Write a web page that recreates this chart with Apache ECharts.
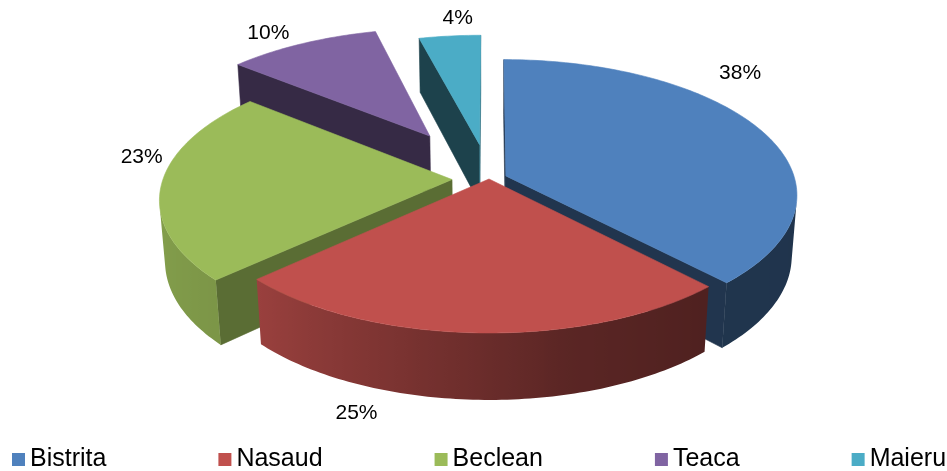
<!DOCTYPE html>
<html><head><meta charset="utf-8">
<script src="https://cdn.jsdelivr.net/npm/echarts@6/dist/echarts.min.js"></script>
<style>html,body{margin:0;padding:0;background:#fff}#c{width:947px;height:471px}</style>
</head><body><div id="c"></div>
<script>
// ---- data ----
const categories = ['Bistrita', 'Nasaud', 'Beclean', 'Teaca', 'Maieru'];
const values = [38, 25, 23, 10, 4];
const percentLabels = ['38%', '25%', '23%', '10%', '4%'];

// ---- style / layout ----
const colors = ['#4F81BD', '#C0504D', '#9BBB59', '#8064A2', '#4BACC6'];
const explode = [0.063, 0, 0.128, 0.4, 0.27];
const labelShift = [[-20, -56], [-122, 80], [-20, -27], [-34, -10], [8, -18]];
const CX = 489, CY = 179, PHI = 27.4 * Math.PI / 180, DIST = 6.51, FOC = 1881, H = 0.24;
const FONT = "'Liberation Sans', Arial, sans-serif";

const cP = Math.cos(PHI), sP = Math.sin(PHI);
const cam = [0, DIST * sP, -DIST * cP];
function proj(X, Y, Z) {
  const yv = Y * cP + Z * sP;
  const d = DIST + Z * cP - Y * sP;
  const k = FOC / d;
  return [CX + X * k, CY - yv * k, d];
}
function shade(hex, f) {
  const n = parseInt(hex.slice(1), 16);
  const r = Math.round(((n >> 16) & 255) * f), g = Math.round(((n >> 8) & 255) * f), b = Math.round((n & 255) * f);
  return 'rgb(' + Math.min(255, r) + ',' + Math.min(255, g) + ',' + Math.min(255, b) + ')';
}
// lighting for outer walls, by angle (deg)
const wallLight = [[0, 0.4], [90, 0.4], [137, 0.41], [166, 0.47], [180, 0.55], [196, 0.64], [226, 0.8], [270, 0.87], [360, 0.6]];
function wallF(deg) {
  deg = ((deg % 360) + 360) % 360;
  for (let i = 1; i < wallLight.length; i++) {
    if (deg <= wallLight[i][0]) {
      const [a0, f0] = wallLight[i - 1], [a1, f1] = wallLight[i];
      return f0 + (f1 - f0) * (deg - a0) / (a1 - a0);
    }
  }
  return 0.6;
}
function cutF(nAng) { return 0.5 + 0.12 * Math.sin(nAng); }

const total = values.reduce((s, v) => s + v, 0);
const starts = [], ends = [];
let acc = 0;
values.forEach(v => { starts.push(acc / total * 2 * Math.PI); acc += v; ends.push(acc / total * 2 * Math.PI); });

// depth ranking of slices (far first)
const depth = values.map((v, i) => {
  const m = (starts[i] + ends[i]) / 2, e = explode[i];
  const X = (e + 0.6) * Math.sin(m), Z = (e + 0.6) * Math.cos(m);
  return proj(X, -H / 2, Z)[2];
});
const order = depth.map((d, i) => i).sort((p, q) => depth[q] - depth[p]);
const rank = [];
order.forEach((idx, r) => { rank[idx] = r; });

function visible(n, p) {
  return n[0] * (cam[0] - p[0]) + n[1] * (cam[1] - p[1]) + n[2] * (cam[2] - p[2]) > 0;
}

function makeRender(i) {
  return function (params, api) {
    const a = starts[i], b = ends[i], m = (a + b) / 2, e = explode[i];
    const ox = e * Math.sin(m), oz = e * Math.cos(m);
    const pt = (t, r, y) => { const p = proj(ox + r * Math.sin(t), y, oz + r * Math.cos(t)); return [p[0], p[1]]; };
    const N = Math.max(4, Math.ceil((b - a) / (Math.PI / 180 * 1)));
    const col = colors[i];
    const kids = [];
    let z = rank[i] * 1000;
    const poly = (pts, fill, stroke) => kids.push({ type: 'polygon', z2: z++, shape: { points: pts }, style: { fill: fill, stroke: stroke || fill, lineWidth: 0.6 } });
    // cut faces
    const nA = a - Math.PI / 2;
    if (visible([Math.sin(nA), 0, Math.cos(nA)], [ox, -H / 2, oz])) {
      poly([pt(0, 0, 0), pt(a, 1, 0), pt(a, 1, -H), pt(0, 0, -H)], shade(col, cutF(nA)));
    }
    const nB = b + Math.PI / 2;
    if (visible([Math.sin(nB), 0, Math.cos(nB)], [ox, -H / 2, oz])) {
      poly([pt(0, 0, 0), pt(b, 1, 0), pt(b, 1, -H), pt(0, 0, -H)], shade(col, cutF(nB)));
    }
    // outer wall: visible range as one polygon with horizontal gradient
    const vis = [];
    for (let j = 0; j <= N; j++) {
      const t = a + (b - a) * j / N;
      const n = [Math.sin(t), 0, Math.cos(t)];
      if (visible(n, [ox + n[0], -H / 2, oz + n[2]])) vis.push(t);
    }
    if (vis.length >= 2) {
      const topArc = vis.map(t => pt(t, 1, 0));
      const botArc = vis.map(t => pt(t, 1, -H)).reverse();
      const xs = topArc.map(p => p[0]).concat(botArc.map(p => p[0]));
      const xmin = Math.min.apply(null, xs), xmax = Math.max.apply(null, xs);
      const stops = vis.map((t, k) => ({
        offset: Math.max(0, Math.min(1, (topArc[k][0] - xmin) / Math.max(1, xmax - xmin))),
        color: shade(col, wallF(t * 180 / Math.PI))
      })).sort((p, q) => p.offset - q.offset);
      const grad = new echarts.graphic.LinearGradient(0, 0, 1, 0, stops);
      poly(topArc.concat(botArc), grad, 'rgba(0,0,0,0)');
    }
    // top face
    const top = [pt(0, 0, 0)];
    for (let j = 0; j <= N; j++) top.push(pt(a + (b - a) * j / N, 1, 0));
    poly(top, col);
    // label
    const anc = pt(m, 1, 0);
    kids.push({
      type: 'text', z2: 100000, x: anc[0] + labelShift[i][0], y: anc[1] + labelShift[i][1],
      style: { text: percentLabels[i], fill: '#000', fontSize: 21, fontFamily: FONT, align: 'center', verticalAlign: 'middle', textAlign: 'center', textVerticalAlign: 'middle' }
    });
    return { type: 'group', children: kids };
  };
}

const chart = echarts.init(document.getElementById('c'), null, { renderer: 'canvas' });
chart.setOption({
  animation: false,
  backgroundColor: '#fff',
  legend: {
    data: categories, left: 12, top: 447, width: 935, padding: 0,
    itemWidth: 13, itemHeight: 13, itemGap: 112,
    icon: 'rect', selectedMode: false,
    textStyle: { fontSize: 25, fontFamily: FONT, color: '#000' }
  },
  series: categories.map((name, i) => ({
    type: 'custom', name: name, coordinateSystem: 'none', silent: true,
    itemStyle: { color: colors[i] },
    data: [[i, values[i]]],
    renderItem: makeRender(i)
  }))
});
</script></body></html>
